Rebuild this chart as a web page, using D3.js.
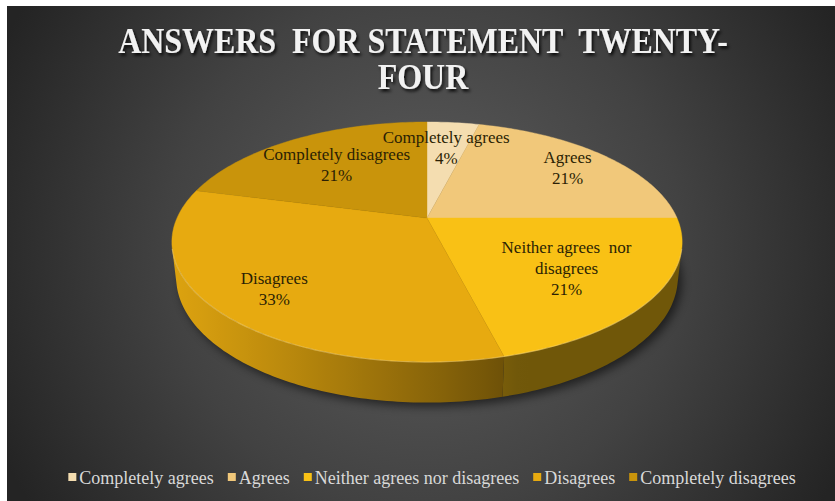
<!DOCTYPE html>
<html>
<head>
<meta charset="utf-8">
<script src="https://cdn.jsdelivr.net/npm/d3@7"></script>
<style>
  html, body { margin: 0; padding: 0; background: #ffffff; }
  svg { display: block; }
</style>
</head>
<body>
<svg id="chart" width="835" height="501"></svg>
<script>
// ---- data ----
const categories = ["Completely agrees", "Agrees", "Neither agrees nor disagrees", "Disagrees", "Completely disagrees"];
const values = [4, 21, 21, 33, 21];
const titleLines = ["ANSWERS  FOR STATEMENT  TWENTY-", "FOUR"];
const sliceLabelLines = [["Completely agrees"], ["Agrees"], ["Neither agrees\u00a0 nor", "disagrees"], ["Disagrees"], ["Completely disagrees"]];

// ---- styles / layout ----
const sliceColors = ["#f4ddb0", "#f1c87a", "#f9c115", "#e7aa10", "#c9940b"];
const labelRadius = [0.7, 0.78, 0.65, 0.77, 0.65];
const W = 835, H = 501;
const serif = "'Liberation Serif', 'Times New Roman', serif";

const svg = d3.select("#chart");
const defs = svg.append("defs");

// background panel with radial shading
const bg = defs.append("radialGradient").attr("id", "bgGrad")
  .attr("gradientUnits", "userSpaceOnUse")
  .attr("cx", 425).attr("cy", 250).attr("r", 470);
bg.append("stop").attr("offset", 0).attr("stop-color", "#5e5e5e");
bg.append("stop").attr("offset", 0.55).attr("stop-color", "#424242");
bg.append("stop").attr("offset", 1).attr("stop-color", "#242424");
svg.append("rect").attr("x", 7).attr("y", 6).attr("width", W - 7).attr("height", H - 6)
  .attr("fill", "url(#bgGrad)");

// filters
const sh = defs.append("filter").attr("id", "pieShadow").attr("x", "-20%").attr("y", "-20%").attr("width", "140%").attr("height", "140%");
sh.append("feGaussianBlur").attr("stdDeviation", 5);
const ts = defs.append("filter").attr("id", "titleShadow").attr("x", "-10%").attr("y", "-30%").attr("width", "120%").attr("height", "160%");
ts.append("feDropShadow").attr("dx", 2).attr("dy", 2.5).attr("stdDeviation", 1.6)
  .attr("flood-color", "#000").attr("flood-opacity", 0.85);

// ---- perspective projection of the pie disc ----
const cam = { cx: 427, cy: 218, f: 1109, D: 4.436, sinE: 0.461, cosE: 0.887, h: 0.16 };
function project(theta, rho, z) {
  const X = rho * Math.sin(theta), Y = -rho * Math.cos(theta);
  const den = cam.D - Y * cam.cosE - z * cam.sinE;
  return [cam.cx + cam.f * X / den, cam.cy + cam.f * (Y * cam.sinE - z * cam.cosE) / den];
}

const arcs = d3.pie().sort(null).value(d => d)(values);
const step = Math.PI / 180;

function arcPoints(a0, a1, rho, z) {
  const n = Math.max(2, Math.ceil(Math.abs(a1 - a0) / step));
  return d3.range(n + 1).map(i => project(a0 + (a1 - a0) * i / n, rho, z));
}

const line = d3.line();

// soft shadow under the pie
const bottomOutline = arcPoints(0, 2 * Math.PI, 1, -cam.h);
svg.append("path")
  .attr("d", line(bottomOutline) + "Z")
  .attr("transform", "translate(4,4)")
  .attr("fill", "#000").attr("opacity", 0.55)
  .attr("filter", "url(#pieShadow)");

// ---- outer wall (only the part facing the viewer) ----
const tMin = Math.acos(-1 / (cam.D * cam.cosE));
const tMax = 2 * Math.PI - tMin;
const light = [-0.954, 0.301];
function shade(color, theta) {
  const nx = Math.sin(theta), ny = -Math.cos(theta);
  const k = 0.45 + 0.5 * Math.max(0, nx * light[0] + ny * light[1]);
  const c = d3.rgb(color);
  return d3.rgb(c.r * k, c.g * k, c.b * k).toString();
}

const wallLayer = svg.append("g");
arcs.forEach((a, i) => {
  const s = Math.max(a.startAngle, tMin), e = Math.min(a.endAngle, tMax);
  if (e <= s) return;
  const x1 = project(s, 1, 0)[0], x2 = project(e, 1, 0)[0];
  const grad = defs.append("linearGradient").attr("id", "wallGrad" + i)
    .attr("gradientUnits", "userSpaceOnUse")
    .attr("x1", x1).attr("y1", 0).attr("x2", x2).attr("y2", 0);
  const ns = 24;
  d3.range(ns + 1).forEach(j => {
    const t = s + (e - s) * j / ns;
    const px = project(t, 1, 0)[0];
    grad.append("stop").attr("offset", (px - x1) / (x2 - x1))
      .attr("stop-color", shade(sliceColors[i], t));
  });
  const pts = arcPoints(s, e, 1, 0).concat(arcPoints(e, s, 1, -cam.h));
  wallLayer.append("path").attr("d", line(pts) + "Z")
    .attr("fill", `url(#wallGrad${i})`);
});

// ---- top face slices ----
const faceLayer = svg.append("g");
arcs.forEach((a, i) => {
  const pts = [project(0, 0, 0)].concat(arcPoints(a.startAngle, a.endAngle, 1, 0));
  faceLayer.append("path").attr("d", line(pts) + "Z")
    .attr("fill", sliceColors[i])
    .attr("stroke", sliceColors[i]).attr("stroke-width", 0.4);
});

// light bevel along the front rim
svg.append("path")
  .attr("d", line(arcPoints(tMin, tMax, 1, 0)))
  .attr("fill", "none").attr("stroke", "#ffe9a8").attr("stroke-opacity", 0.35).attr("stroke-width", 1.2);

// ---- slice labels ----
const lh = 21;
arcs.forEach((a, i) => {
  const mid = (a.startAngle + a.endAngle) / 2;
  const [lx, ly] = project(mid, labelRadius[i], 0);
  const lines = sliceLabelLines[i].concat([values[i] + "%"]);
  const t = svg.append("text")
    .attr("text-anchor", "middle")
    .attr("font-family", serif).attr("font-size", 17)
    .attr("fill", "#2b1f04");
  lines.forEach((s, k) => {
    t.append("tspan").attr("x", lx)
      .attr("y", ly + (k - (lines.length - 1) / 2) * lh)
      .attr("dy", "0.35em").text(s);
  });
});

// ---- title (tall, narrow serif capitals) ----
const title = svg.append("g")
  .attr("transform", "translate(423,0) scale(0.9,1)")
  .append("text")
  .attr("text-anchor", "middle")
  .attr("font-family", serif).attr("font-weight", "bold").attr("font-size", 35.5)
  .attr("fill", "#f2f2f2").attr("filter", "url(#titleShadow)")
  .style("white-space", "pre");
titleLines.forEach((s, k) => {
  title.append("tspan").attr("x", 0).attr("y", 53 + k * 36).text(s);
});

// ---- legend ----
const legend = svg.append("g");
const sq = 8, gap = 3, itemGap = 14, legendY = 478;
const items = categories.map((c, i) => {
  const g = legend.append("g");
  g.append("rect").attr("width", sq).attr("height", sq).attr("y", -sq / 2 - 1)
    .attr("fill", sliceColors[i]);
  const t = g.append("text").attr("x", sq + gap).attr("dy", "0.35em")
    .attr("font-family", serif).attr("font-size", 18).attr("fill", "#d9d9d9").text(c);
  return { g, w: sq + gap + t.node().getComputedTextLength() };
});
const total = d3.sum(items, d => d.w) + itemGap * (items.length - 1);
let x = 432 - total / 2;
items.forEach(d => {
  d.g.attr("transform", `translate(${x},${legendY})`);
  x += d.w + itemGap;
});
</script>
</body>
</html>
